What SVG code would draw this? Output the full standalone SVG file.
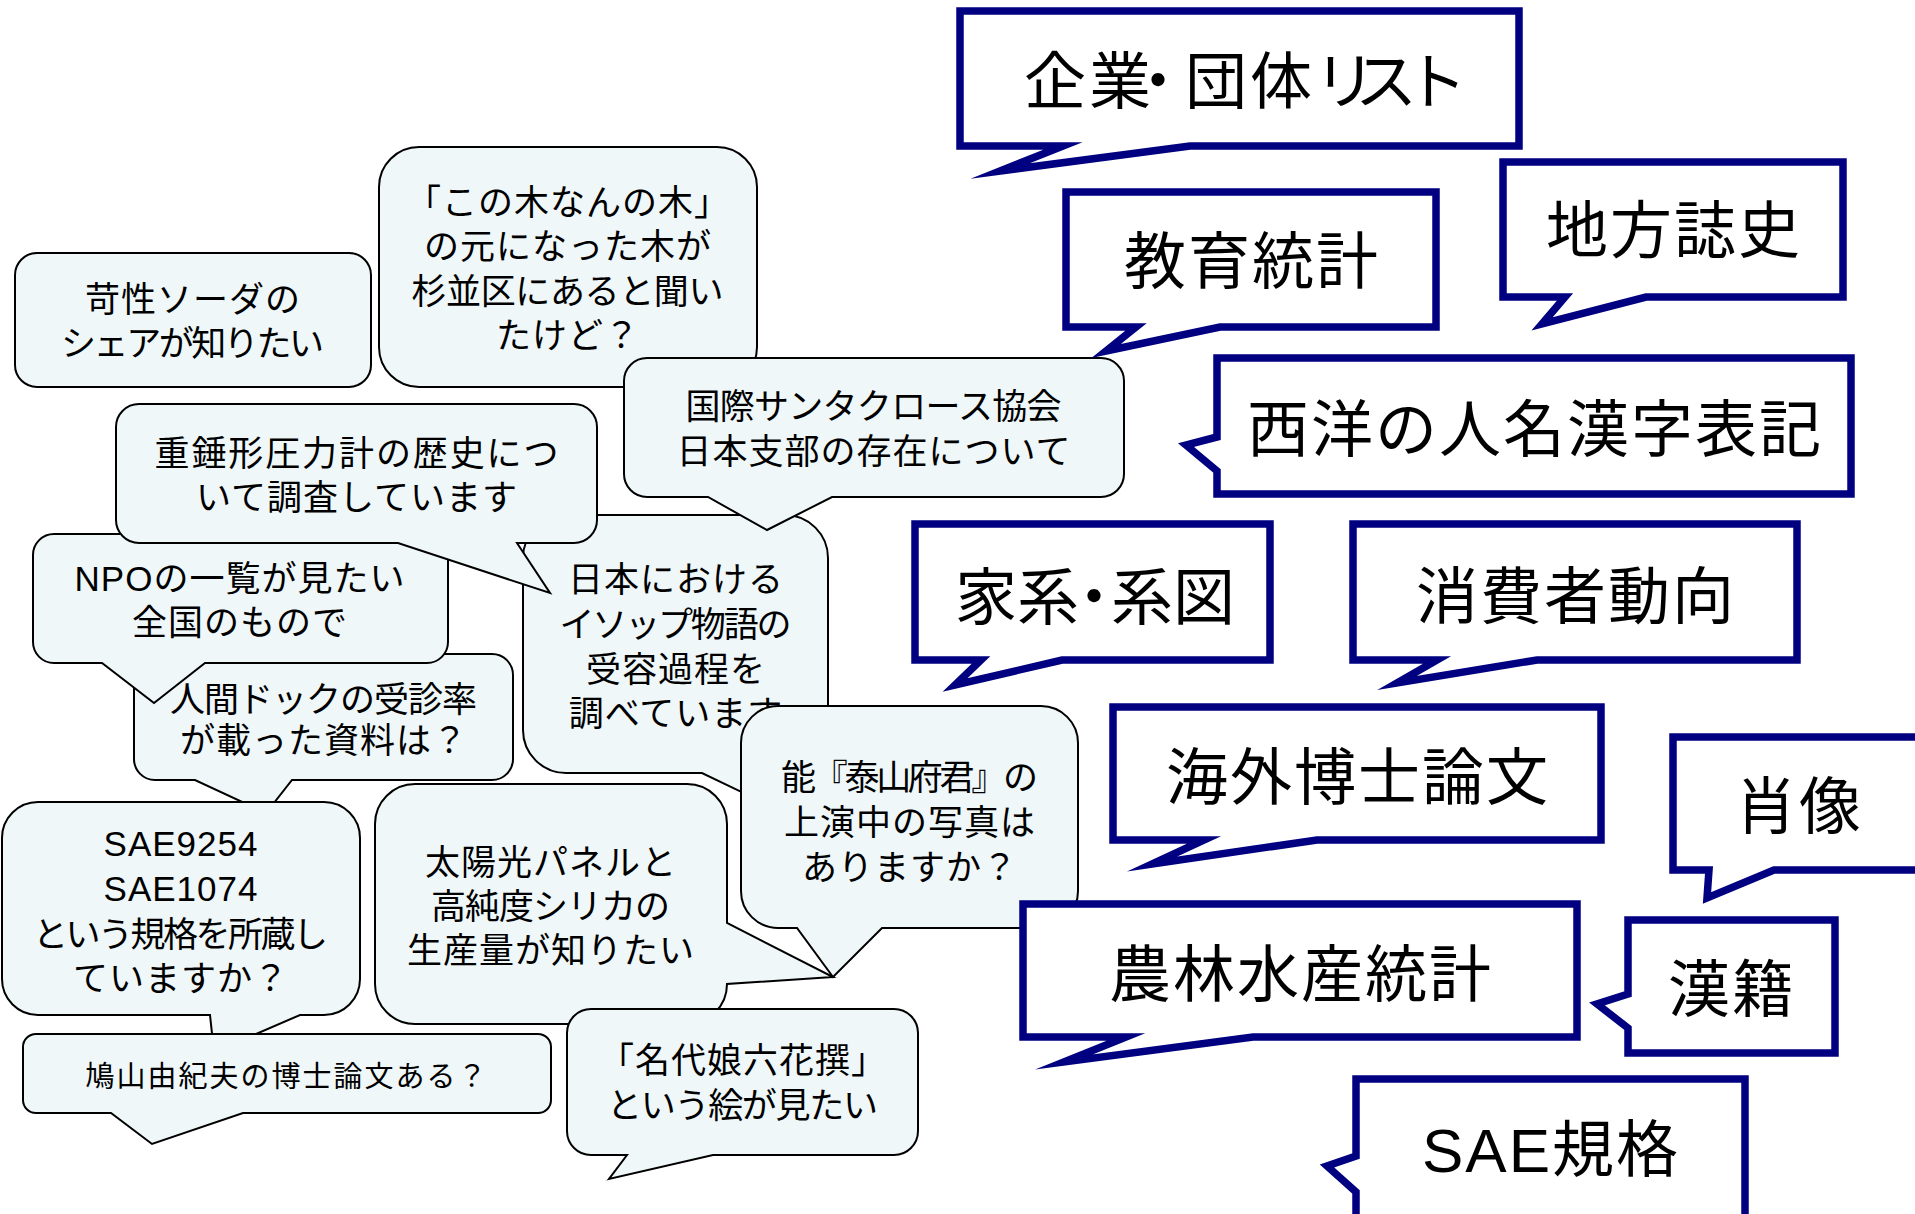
<svg xmlns="http://www.w3.org/2000/svg" width="1915" height="1214" viewBox="0 0 1915 1214">
<style>
.bub{fill:#EFF7F9;stroke:#000;stroke-width:2;stroke-linejoin:miter;stroke-miterlimit:12}
.box{fill:#fff;stroke:#000080;stroke-width:7.5;stroke-linejoin:miter;stroke-miterlimit:12}
text{font-family:"Liberation Sans","Noto Sans CJK JP",sans-serif;fill:#000}
.lt{font-size:35px;letter-spacing:1px;text-anchor:middle}
.st{font-size:29px;letter-spacing:2px;text-anchor:middle}
.rt{font-size:62px;letter-spacing:2px;text-anchor:middle}
.rx{font-family:"Noto Sans CJK JP",sans-serif;font-size:62px;letter-spacing:0px}
</style>
<rect width="1915" height="1214" fill="#fff"/>
<g id="connectors"></g>
<g id="n-kasei">
<path class="bub" d="M37,253 H349 A22,22 0 0 1 371,275 V365 A22,22 0 0 1 349,387 H37 A22,22 0 0 1 15,365 V275 A22,22 0 0 1 37,253 Z"/>
<text class="lt" x="193" y="312">苛性ソーダの</text>
<text class="lt" x="193" y="356" textLength="264">シェアが知りたい</text>
</g>
<g id="n-konoki">
<path class="bub" d="M419,147 H717 A40,40 0 0 1 757,187 V347 A40,40 0 0 1 717,387 H419 A40,40 0 0 1 379,347 V187 A40,40 0 0 1 419,147 Z"/>
<text class="lt" x="568" y="215">「この木なんの木」</text>
<text class="lt" x="568" y="259">の元になった木が</text>
<text class="lt" x="568" y="304" textLength="313">杉並区にあると聞い</text>
<text class="lt" x="568" y="348">たけど？</text>
</g>
<g id="n-aesop">
<path class="bub" d="M566,515 H785 A43,43 0 0 1 828,558 V730 A43,43 0 0 1 785,773 H770 L800,820 L702,773 H566 A43,43 0 0 1 523,730 V558 A43,43 0 0 1 566,515 Z"/>
<text class="lt" x="676" y="592">日本における</text>
<text class="lt" x="676" y="637" textLength="233">イソップ物語の</text>
<text class="lt" x="676" y="682">受容過程を</text>
<text class="lt" x="676" y="726">調べています</text>
</g>
<g id="n-santa">
<path class="bub" d="M647,358 H1101 A23,23 0 0 1 1124,381 V474 A23,23 0 0 1 1101,497 H832 L767,530 L708,497 H647 A23,23 0 0 1 624,474 V381 A23,23 0 0 1 647,358 Z"/>
<text class="lt" x="874" y="419" textLength="377">国際サンタクロース協会</text>
<text class="lt" x="874" y="464">日本支部の存在について</text>
</g>
<g id="n-ningen">
<path class="bub" d="M155,654 H492 A21,21 0 0 1 513,675 V759 A21,21 0 0 1 492,780 H292 L266,813 L195,780 H155 A21,21 0 0 1 134,759 V675 A21,21 0 0 1 155,654 Z"/>
<text class="lt" x="324" y="712" textLength="308">人間ドックの受診率</text>
<text class="lt" x="324" y="753">が載った資料は？</text>
</g>
<g id="n-npo">
<path class="bub" d="M54,534 H427 A21,21 0 0 1 448,555 V642 A21,21 0 0 1 427,663 H205 L154,703 L102,663 H54 A21,21 0 0 1 33,642 V555 A21,21 0 0 1 54,534 Z"/>
<text class="lt" x="240" y="591">NPOの一覧が見たい</text>
<text class="lt" x="240" y="635">全国のもので</text>
</g>
<g id="n-jusui">
<path class="bub" d="M139,404 H574 A23,23 0 0 1 597,427 V520 A23,23 0 0 1 574,543 H517 L550,593 L398,543 H139 A23,23 0 0 1 116,520 V427 A23,23 0 0 1 139,404 Z"/>
<text class="lt" x="357" y="466" textLength="405">重錘形圧力計の歴史につ</text>
<text class="lt" x="357" y="510">いて調査しています</text>
</g>
<g id="n-solar">
<path class="bub" d="M415,784 H687 A40,40 0 0 1 727,824 V923 L833,977 L727,984 A40,40 0 0 1 687,1024 H415 A40,40 0 0 1 375,984 V824 A40,40 0 0 1 415,784 Z"/>
<text class="lt" x="551" y="875">太陽光パネルと</text>
<text class="lt" x="551" y="919" textLength="240">高純度シリカの</text>
<text class="lt" x="551" y="963">生産量が知りたい</text>
</g>
<g id="n-noh">
<path class="bub" d="M778,706 H1041 A37,37 0 0 1 1078,743 V891 A37,37 0 0 1 1041,928 H882 L833,977 L797,928 H778 A37,37 0 0 1 741,891 V743 A37,37 0 0 1 778,706 Z"/>
<text class="lt" x="910" y="790" textLength="258">能『泰山府君』の</text>
<text class="lt" x="910" y="835">上演中の写真は</text>
<text class="lt" x="910" y="880">ありますか？</text>
</g>
<g id="n-sae">
<path class="bub" d="M38,802 H324 A36,36 0 0 1 360,838 V979 A36,36 0 0 1 324,1015 H300 L214,1052 L210,1015 H38 A36,36 0 0 1 2,979 V838 A36,36 0 0 1 38,802 Z"/>
<text class="lt" x="181" y="856">SAE9254</text>
<text class="lt" x="181" y="901">SAE1074</text>
<text class="lt" x="181" y="947" textLength="296">という規格を所蔵し</text>
<text class="lt" x="181" y="991">ていますか？</text>
</g>
<g id="n-hatoyama">
<path class="bub" d="M36,1034 H538 A13,13 0 0 1 551,1047 V1100 A13,13 0 0 1 538,1113 H243 L152,1144 L111,1113 H36 A13,13 0 0 1 23,1100 V1047 A13,13 0 0 1 36,1034 Z"/>
<text class="st" x="287" y="1087">鳩山由紀夫の博士論文ある？</text>
</g>
<g id="n-nadai">
<path class="bub" d="M591,1009 H894 A24,24 0 0 1 918,1033 V1131 A24,24 0 0 1 894,1155 H713 L609,1179 L627,1155 H591 A24,24 0 0 1 567,1131 V1033 A24,24 0 0 1 591,1009 Z"/>
<text class="lt" x="743" y="1073">「名代娘六花撰」</text>
<text class="lt" x="743" y="1118" textLength="272">という絵が見たい</text>
</g>
<g id="r-kigyo">
<path class="box" d="M960,11 H1519 V146 H1190 L1000,171 L1063,146 H960 Z"/>
<text class="rx" x="1024 1089 1127 1185 1250 1314 1355 1405" y="104">企業・団体リスト</text>
</g>
<g id="r-kyoiku">
<path class="box" d="M1066,192 H1436 V327 H1220 L1106,351 L1136,327 H1066 Z"/>
<text class="rt" x="1252" y="284">教育統計</text>
</g>
<g id="r-chiho">
<path class="box" d="M1503,162 H1843 V297 H1646 L1542,324 L1565,297 H1503 Z"/>
<text class="rt" x="1674" y="253">地方誌史</text>
</g>
<g id="r-seiyo">
<path class="box" d="M1217,358 H1851 V494 H1217 V471 L1186,445 L1217,437 Z"/>
<text class="rt" x="1535" y="452">西洋の人名漢字表記</text>
</g>
<g id="r-kakei">
<path class="box" d="M915,524 H1270 V660 H1062 L955,685 L981,660 H915 Z"/>
<text class="rx" x="955 1017 1063 1111 1173" y="620">家系・系図</text>
</g>
<g id="r-shohi">
<path class="box" d="M1353,524 H1797 V660 H1537 L1397,683 L1437,660 H1353 Z"/>
<text class="rt" x="1576" y="619">消費者動向</text>
</g>
<g id="r-kaigai">
<path class="box" d="M1113,707 H1601 V840 H1317 L1152,864 L1204,840 H1113 Z"/>
<text class="rt" x="1358" y="800">海外博士論文</text>
</g>
<g id="r-shozo">
<path class="box" d="M1673,737 H1940 V870 H1774 L1707,898 L1709,870 H1673 Z"/>
<text class="rt" x="1799" y="829">肖像</text>
</g>
<g id="r-noulin">
<path class="box" d="M1023,904 H1577 V1037 H1253 L1064,1062 L1126,1037 H1023 Z"/>
<text class="rt" x="1301" y="997">農林水産統計</text>
</g>
<g id="r-kanseki">
<path class="box" d="M1628,920 H1835 V1053 H1628 V1028 L1597,1004 L1628,994 Z"/>
<text class="rt" x="1732" y="1012">漢籍</text>
</g>
<g id="r-saekikaku">
<path class="box" d="M1356,1079 H1745 V1232 H1356 V1192 L1327,1166 L1356,1156 Z"/>
<text class="rt" x="1551" y="1172">SAE規格</text>
</g>
</svg>
